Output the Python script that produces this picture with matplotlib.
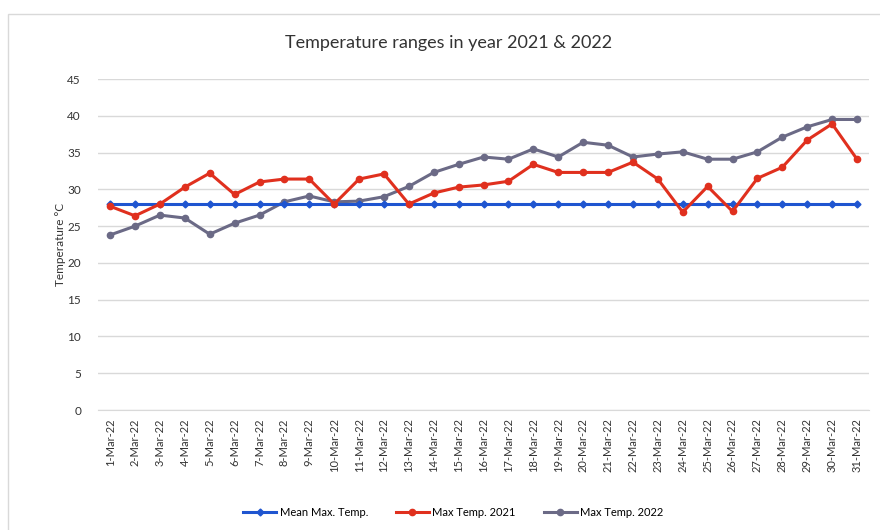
import matplotlib
matplotlib.use("Agg")
import matplotlib.pyplot as plt
from matplotlib.patches import Rectangle

plt.rcParams['font.family'] = ['Lato', 'DejaVu Sans']

days = [f"{d}-Mar-22" for d in range(1, 32)]
mean_max = [28] * 31
max_2021 = [27.7, 26.4, 28.0, 30.3, 32.2, 29.3, 31.0, 31.4, 31.4, 28.0,
            31.4, 32.1, 28.0, 29.5, 30.3, 30.6, 31.1, 33.4, 32.3, 32.3,
            32.3, 33.7, 31.4, 26.9, 30.4, 27.0, 31.5, 33.0, 36.7, 38.9, 34.1]
max_2022 = [23.8, 25.0, 26.5, 26.1, 23.9, 25.4, 26.5, 28.3, 29.1, 28.3,
            28.4, 29.0, 30.4, 32.3, 33.4, 34.4, 34.1, 35.5, 34.4, 36.4,
            36.0, 34.4, 34.8, 35.1, 34.1, 34.1, 35.1, 37.1, 38.5, 39.5, 39.5]

fig = plt.figure(figsize=(8.8, 5.3), dpi=100)
fig.patches.append(Rectangle((8 / 880, -0.01), 1.0, 1 - 14 / 530 + 0.01,
                             transform=fig.transFigure, fill=False,
                             edgecolor='#d9d9d9', linewidth=1))

ax = fig.add_axes([0.111, 0.2264, 0.877, 0.6245])
x = list(range(1, 32))

ax.plot(x, mean_max, color='#1f55d0', linewidth=2.2, marker='D', markersize=3.5,
        label='Mean Max. Temp.', zorder=3)
ax.plot(x, max_2021, color='#e0301e', linewidth=2.2, marker='o', markersize=4.5,
        label='Max Temp. 2021', zorder=4)
ax.plot(x, max_2022, color='#6b6a86', linewidth=2.2, marker='o', markersize=4.5,
        label='Max Temp. 2022', zorder=2)

ax.set_xlim(0.5, 31.5)
ax.set_ylim(0, 45)
ax.set_yticks(range(0, 46, 5))
ax.set_xticks(x)
ax.set_xticklabels(days, rotation=90, fontsize=8, color='#333333')
ax.tick_params(axis='y', labelsize=8.5, colors='#333333', length=0, pad=12)
ax.tick_params(axis='x', length=0, pad=6)
ax.grid(axis='y', color='#d9d9d9', linewidth=1)
ax.set_axisbelow(True)
for s in ['top', 'right', 'left']:
    ax.spines[s].set_visible(False)
ax.spines['bottom'].set_color('#d9d9d9')

ax.set_ylabel('Temperature °C', fontsize=8.5, color='#333333', labelpad=1)
fig.text(0.51, 0.918, 'Temperature ranges in year 2021 & 2022', ha='center',
         va='center', fontsize=13, color='#333333')

fig.legend(loc='center', bbox_to_anchor=(0.515, 0.033), ncol=3, frameon=False,
           fontsize=8, handlelength=3, columnspacing=2.5, handletextpad=0.3)

fig.savefig('out.png', dpi=100)
